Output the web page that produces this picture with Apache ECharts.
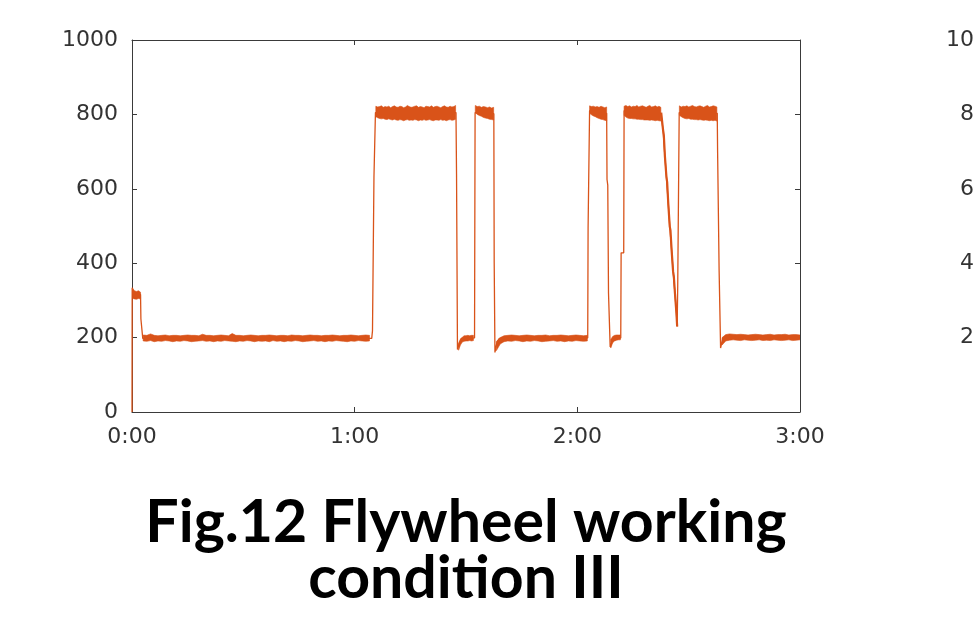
<!DOCTYPE html>
<html>
<head>
<meta charset="utf-8">
<script src="https://cdn.jsdelivr.net/npm/echarts@6/dist/echarts.min.js"></script>
<style>
  html, body { margin: 0; padding: 0; background: #fff; }
  #chart { width: 973px; height: 622px; }
</style>
</head>
<body>
<div id="chart"></div>
<script>
// Flywheel speed over a 3-hour run (time in minutes, speed in rpm)

const timeTicks = [0, 60, 120, 180];
const timeTickLabels = ['0:00', '1:00', '2:00', '3:00'];

// Centre trace through steady levels and all step transitions
const traceTime = [
  0, 0.05, 0.3, 2.3, 2.4, 2.8, 2.9, 64.6, 64.8, 65.1, 65.2, 65.5, 65.6,
  87.3, 87.45, 87.6, 87.7, 88.2, 88.8, 92.3, 92.45, 97.5, 97.6, 97.7, 97.8,
  98.3, 99, 122.8, 122.9, 123.2, 123.3, 127.9, 128.0, 128.2, 128.4, 128.7,
  128.85, 129.5, 131.7, 131.8, 132.5, 132.6, 142.5, 142.7, 143.1, 143.6,
  144.0, 144.5, 144.9, 145.4, 145.8, 146.3, 146.7, 146.9, 147.05, 147.3,
  147.45, 157.7, 157.8, 158.0, 158.2, 158.4, 158.6, 159.2, 180
];
const traceSpeed = [
  0, 334, 318, 316, 250, 250, 198, 198, 218, 218, 633, 633, 805,
  805, 640, 640, 168, 185, 198, 199, 805, 802, 400, 400, 160,
  185, 198, 199, 496, 496, 810, 803, 625, 610, 320, 320,
  175, 192, 199, 428, 428, 810, 803, 803, 758, 687,
  633, 561, 499, 436, 378, 320, 266, 230, 338, 338,
  805, 803, 698, 698, 383, 383, 172, 198, 200
];

// Coast-down ramp between the 4th and 5th high-speed phases
const rampTime = [142.6, 142.7, 143.1, 143.3, 143.6, 144.0, 144.2, 144.5, 144.9, 145.1, 145.4, 145.8, 146.0, 146.3, 146.7, 146.9];
const rampSpeed = [805, 803, 758, 745, 687, 633, 618, 561, 499, 488, 436, 378, 365, 320, 266, 230];

// Noise envelopes (upper / lower) of each steady phase, evenly spaced in time
const startHi = [334, 326, 324, 326, 322];
const startLo = [306, 304, 303, 305, 304];

const base1Hi = [207,206,210,206,205,206,207,205,206,206, 205,206,207,206,206,205,209,206,206,205,
                 206,207,206,205,211,206,206,205,206,207, 206,205,206,206,207,206,205,206,206,205,
                 207,206,206,205,206,207,206,206,205,206, 206,207,206,205,206,206,207,206,205,206,
                 207,206];
const base1Lo = [191,190,192,189,191,190,192,191,189,191, 190,192,191,189,190,191,192,190,191,189,
                 191,190,192,191,190,189,191,190,192,191, 189,191,190,191,189,192,190,191,189,191,
                 190,192,191,189,190,191,192,190,191,189, 191,190,192,191,190,189,191,190,192,191,
                 190,191];

const high1Hi = [822,820,821,823,819,821,820,822,818,821, 823,820,819,822,821,818,820,824,821,819,
                 820,822,823,819,821,820,818,822,821,820, 823,819,821,822,820,818,821,823,820,819,
                 822,820,821,824];
const high1Lo = [794,791,789,788,789,787,786,788,786,785, 787,785,784,786,785,783,785,786,784,785,
                 784,786,785,783,785,784,786,784,785,786, 784,783,785,785,784,786,784,785,783,785,
                 786,784,785,787];

const base2Hi = [185,196,201,205,205,206,205,206,206];
const base2Lo = [166,180,188,190,191,191,192,191,192];

const high2Hi = [824,821,822,819,821,820,818,820,817,819];
const high2Lo = [805,800,797,795,792,790,789,787,786,785];

const base3Hi = [190,200,205,206,207,206,205,206,207,206, 205,206,206,207,205,206,206,207,206,205,
                 206,207,206,205,206];
const base3Lo = [165,183,189,191,190,192,191,189,191,190, 192,191,189,190,191,192,190,191,189,191,
                 190,192,191,190,191];

const high3Hi = [823,821,822,820,821,819,822,820,818,820];
const high3Lo = [803,799,796,794,791,789,787,786,784,783];

const base4Hi = [195,203,206,207,207,207];
const base4Lo = [172,186,191,193,194,194];

const high4Hi = [822,824,821,823,820,822,821,824,820,822, 823,821,819,822,824,820,821,823,820,822, 819];
const high4Lo = [797,793,790,789,789,788,788,787,787,786, 786,785,785,785,784,785,784,783,784,783, 782];

const high5Hi = [823,820,822,821,823,820,822,824,821,820, 822,823,821,819,822,824,820,821,823,822, 820];
const high5Lo = [798,794,791,789,788,789,787,787,786,786, 785,786,785,784,785,784,783,784,783,784, 782];

const base5Hi = [200,208,210,209,208,209,208,207,208,209, 208,207,208,209,207,208,208,209,207,208, 208,207];
const base5Lo = [180,191,193,194,193,192,194,193,192,193, 194,192,193,192,194,193,192,193,194,192, 193,194];

// Time span covered by each envelope pair
const bandStart = [0.1, 3.0, 65.7, 88.0, 92.5, 98.2, 123.3, 129.0, 132.6, 147.5, 159.0];
const bandEnd   = [2.3, 64.0, 87.2, 92.0, 97.45, 122.7, 127.9, 131.6, 142.5, 157.6, 180.0];
const bandHi = [startHi, base1Hi, high1Hi, base2Hi, high2Hi, base3Hi, high3Hi, base4Hi, high4Hi, high5Hi, base5Hi];
const bandLo = [startLo, base1Lo, high1Lo, base2Lo, high2Lo, base3Lo, high3Lo, base4Lo, high4Lo, high5Lo, base5Lo];

const lineColor = '#d95319';
const axisColor = '#3a3a3a';
const labelFont = { fontFamily: 'DejaVu Sans', fontSize: 22, color: '#333' };

const chart = echarts.init(document.getElementById('chart'), null, { renderer: 'canvas' });

function boxAxis(extra) {
  return Object.assign({
    axisLine: { show: true, onZero: false, lineStyle: { color: axisColor, width: 1 } },
    axisTick: { show: true, inside: true, length: 5, lineStyle: { color: axisColor } },
    splitLine: { show: false },
    axisLabel: { show: false }
  }, extra);
}

const option = {
  animation: false,
  backgroundColor: '#fff',
  title: {
    text: 'Fig.12 Flywheel working\ncondition III',
    left: 461,
    top: 490,
    textAlign: 'center',
    textStyle: { fontFamily: 'Lato', fontWeight: 'bold', fontSize: 59, lineHeight: 56, color: '#000' }
  },
  grid: [
    { left: 132, top: 40, width: 668, height: 372 },
    { left: 1016, top: 40, width: 400, height: 372 }
  ],
  xAxis: [
    boxAxis({
      gridIndex: 0, type: 'value', min: 0, max: 180, interval: 60, position: 'bottom',
      axisLabel: Object.assign({
        show: true, margin: 14,
        formatter: v => timeTickLabels[timeTicks.indexOf(v)]
      }, labelFont)
    }),
    boxAxis({ gridIndex: 0, type: 'value', min: 0, max: 180, interval: 60, position: 'top' }),
    boxAxis({ gridIndex: 1, type: 'value', min: 0, max: 180, interval: 60, position: 'bottom' })
  ],
  yAxis: [
    boxAxis({
      gridIndex: 0, type: 'value', min: 0, max: 1000, interval: 200, position: 'left',
      axisLabel: Object.assign({ show: true, margin: 14, formatter: v => String(v) }, labelFont)
    }),
    boxAxis({ gridIndex: 0, type: 'value', min: 0, max: 1000, interval: 200, position: 'right' }),
    boxAxis({
      gridIndex: 1, type: 'value', min: 0, max: 1000, interval: 200, position: 'left',
      axisLabel: Object.assign({ show: true, margin: 14, formatter: v => String(v) }, labelFont)
    })
  ],
  series: [
    {
      type: 'line',
      xAxisIndex: 0, yAxisIndex: 0,
      data: traceTime.map((t, i) => [t, traceSpeed[i]]),
      showSymbol: false,
      lineStyle: { color: lineColor, width: 1.3 },
      z: 2
    },
    {
      type: 'line',
      xAxisIndex: 0, yAxisIndex: 0,
      step: 'end',
      data: rampTime.map((t, i) => [t, rampSpeed[i]]),
      showSymbol: false,
      lineStyle: { color: lineColor, width: 2.2 },
      z: 3
    },
    {
      type: 'custom',
      xAxisIndex: 0, yAxisIndex: 0,
      data: bandStart.map((t, i) => [t, 500, i]),
      clip: true,
      z: 3,
      renderItem(params, api) {
        const k = api.value(2);
        const hi = bandHi[k], lo = bandLo[k];
        const n = hi.length;
        const step = (bandEnd[k] - bandStart[k]) / (n - 1);
        const pts = [];
        for (let i = 0; i < n; i++) pts.push(api.coord([bandStart[k] + i * step, hi[i]]));
        for (let i = n - 1; i >= 0; i--) pts.push(api.coord([bandStart[k] + i * step, lo[i]]));
        return {
          type: 'polygon',
          shape: { points: pts },
          style: { fill: lineColor, stroke: lineColor, lineWidth: 0.6 }
        };
      }
    }
  ]
};

chart.setOption(option);
</script>
</body>
</html>
